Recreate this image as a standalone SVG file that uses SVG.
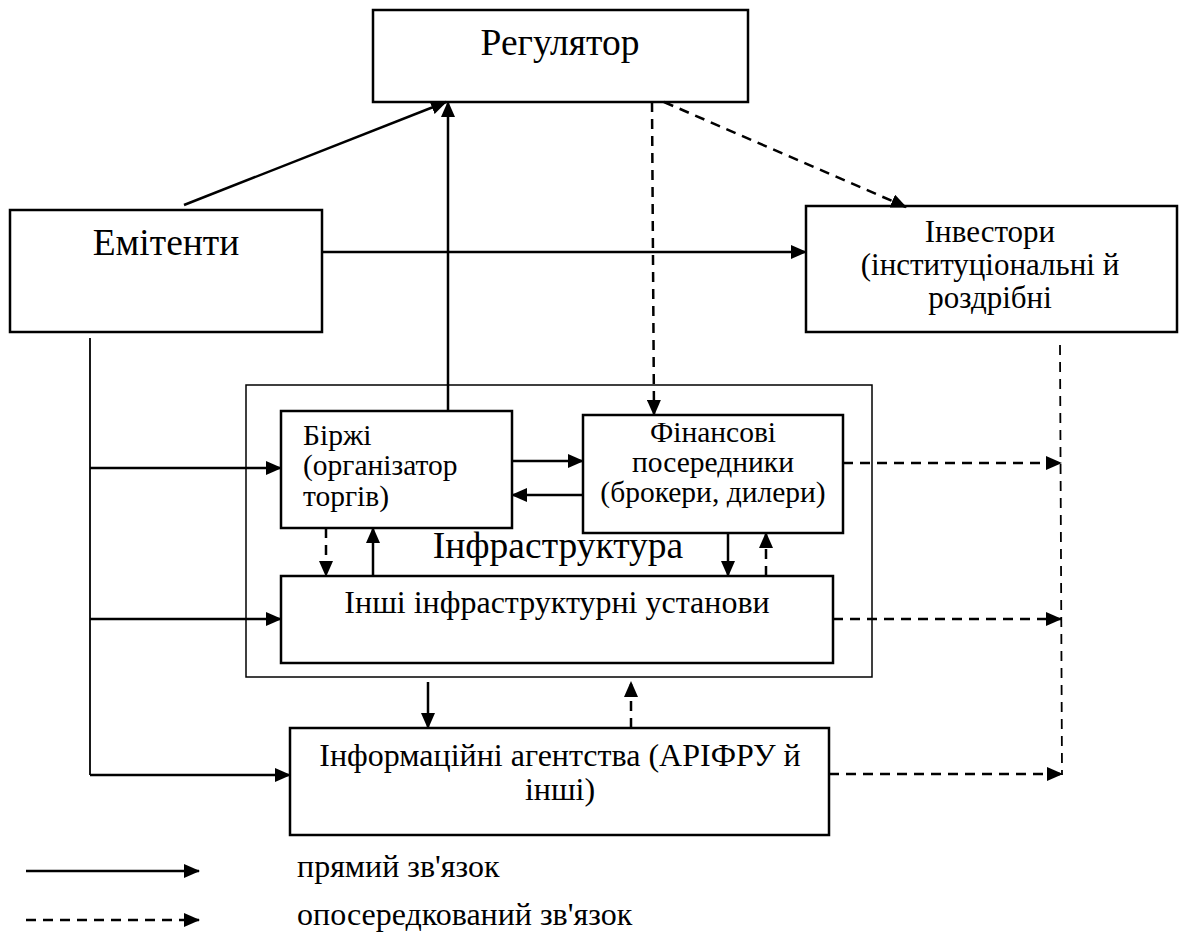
<svg xmlns="http://www.w3.org/2000/svg" width="1182" height="939" viewBox="0 0 1182 939">
<defs>
<marker id="ah" markerUnits="userSpaceOnUse" markerWidth="16" markerHeight="14" refX="15" refY="7" orient="auto">
<path d="M0,0 L16,7 L0,14 z" fill="#000"/>
</marker>
<style>
.box{fill:#fff;stroke:#000;stroke-width:2.5}
.outer{fill:none;stroke:#000;stroke-width:1.5}
.s{fill:none;stroke:#000;stroke-width:2.5}
.d{fill:none;stroke:#000;stroke-width:2.5;stroke-dasharray:10,7}
.ln{fill:none;stroke:#000;stroke-width:1.8}
.dl{fill:none;stroke:#000;stroke-width:1.8;stroke-dasharray:10,7}
</style>
</defs>
<rect width="1182" height="939" fill="#fff"/>
<g font-family="'Liberation Serif', 'Times New Roman', serif" fill="#000">
<g id="infra">
<rect class="outer" x="246" y="385" width="626" height="292"/>
<text x="558" y="558" font-size="37.5" text-anchor="middle">Інфраструктура</text>
</g>
<g id="regulator">
<rect class="box" x="373" y="10" width="375" height="92"/>
<text x="560" y="55" font-size="37.5" text-anchor="middle">Регулятор</text>
</g>
<g id="emitenty">
<rect class="box" x="10" y="210" width="312" height="122"/>
<text x="166" y="255" font-size="37.5" text-anchor="middle">Емітенти</text>
</g>
<g id="investors">
<rect class="box" x="806" y="206" width="371" height="126"/>
<text font-size="31" text-anchor="middle"><tspan x="990" y="242">Інвестори</tspan><tspan x="990" y="275">(інституціональні й</tspan><tspan x="990" y="308">роздрібні</tspan></text>
</g>
<g id="birzhi">
<rect class="box" x="281" y="411" width="231" height="117"/>
<text font-size="29.5"><tspan x="303" y="445">Біржі</tspan><tspan x="303" y="475">(організатор</tspan><tspan x="303" y="506">торгів)</tspan></text>
</g>
<g id="finposer">
<rect class="box" x="583" y="415" width="260" height="118"/>
<text font-size="29.5" text-anchor="middle"><tspan x="713" y="442">Фінансові</tspan><tspan x="713" y="472">посередники</tspan><tspan x="713" y="502">(брокери, дилери)</tspan></text>
</g>
<g id="inshi">
<rect class="box" x="281" y="576" width="552" height="87"/>
<text x="557" y="613" font-size="32" text-anchor="middle">Інші інфраструктурні установи</text>
</g>
<g id="infoag">
<rect class="box" x="290" y="728" width="539" height="107"/>
<text font-size="32" text-anchor="middle"><tspan x="560" y="766">Інформаційні агентства (АРІФРУ й</tspan><tspan x="560" y="800">інші)</tspan></text>
</g>
<g id="connectors">
<line class="s" x1="184" y1="205" x2="446" y2="102" marker-end="url(#ah)"/>
<line class="s" x1="448" y1="411" x2="448" y2="102" marker-end="url(#ah)"/>
<line class="s" x1="322" y1="252" x2="806" y2="252" marker-end="url(#ah)"/>
<line class="d" x1="652" y1="102" x2="654" y2="415" marker-end="url(#ah)"/>
<line class="d" x1="664" y1="102" x2="906" y2="207" marker-end="url(#ah)"/>
<line class="dl" x1="1060" y1="345" x2="1062" y2="775"/>
<line class="ln" x1="90" y1="338" x2="90" y2="775"/>
<line class="s" x1="90" y1="468" x2="281" y2="468" marker-end="url(#ah)"/>
<line class="s" x1="90" y1="619" x2="281" y2="619" marker-end="url(#ah)"/>
<line class="s" x1="90" y1="775" x2="290" y2="775" marker-end="url(#ah)"/>
<line class="s" x1="512" y1="461" x2="583" y2="461" marker-end="url(#ah)"/>
<line class="s" x1="583" y1="495" x2="512" y2="495" marker-end="url(#ah)"/>
<line class="d" x1="326" y1="528" x2="326" y2="576" marker-end="url(#ah)"/>
<line class="s" x1="373" y1="576" x2="373" y2="528" marker-end="url(#ah)"/>
<line class="s" x1="728" y1="533" x2="728" y2="576" marker-end="url(#ah)"/>
<line class="d" x1="766" y1="576" x2="766" y2="533" marker-end="url(#ah)"/>
<line class="d" x1="843" y1="463" x2="1061" y2="463" marker-end="url(#ah)"/>
<line class="d" x1="833" y1="619" x2="1061" y2="619" marker-end="url(#ah)"/>
<line class="d" x1="829" y1="774" x2="1062" y2="774" marker-end="url(#ah)"/>
<line class="s" x1="428" y1="682" x2="428" y2="728" marker-end="url(#ah)"/>
<line class="d" x1="631" y1="728" x2="631" y2="682" marker-end="url(#ah)"/>
</g>
<g id="legend">
<line class="s" x1="26" y1="871" x2="199" y2="871" marker-end="url(#ah)"/>
<text x="297" y="877" font-size="32">прямий зв'язок</text>
<line class="d" x1="26" y1="920" x2="199" y2="920" marker-end="url(#ah)"/>
<text x="297" y="925" font-size="32">опосередкований зв'язок</text>
</g>
</g>
</svg>
